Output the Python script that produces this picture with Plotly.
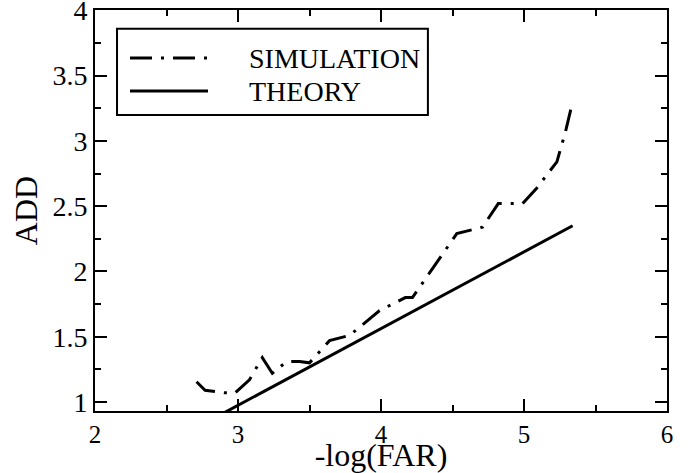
import plotly.graph_objects as go

# Data
sim_x = [2.71, 2.77, 2.91, 2.98, 3.08, 3.17, 3.24, 3.34, 3.43, 3.50, 3.64, 3.78,
         3.99, 4.17, 4.22, 4.32, 4.53, 4.71, 4.82, 4.99, 5.09, 5.23, 5.29, 5.34]
sim_y = [1.155, 1.09, 1.07, 1.07, 1.17, 1.34, 1.22, 1.31, 1.31, 1.30, 1.47, 1.51,
         1.70, 1.80, 1.80, 1.96, 2.29, 2.34, 2.52, 2.52, 2.64, 2.84, 3.07, 3.30]
theory_x = [2.71, 5.34]
theory_y = [0.804, 2.35]

series_names = ["SIMULATION", "THEORY"]
x_ticks = [2, 3, 4, 5, 6]
y_ticks = [1, 1.5, 2, 2.5, 3, 3.5, 4]
y_tick_labels = ["1", "1.5", "2", "2.5", "3", "3.5", "4"]

FONT = "Liberation Serif"
DASH = "22px,9px,3px,9px"

fig = go.Figure()
fig.add_trace(go.Scatter(x=sim_x, y=sim_y, mode="lines", name=series_names[0],
                         line=dict(color="black", width=3, dash=DASH),
                         showlegend=False))
fig.add_trace(go.Scatter(x=theory_x, y=theory_y, mode="lines", name=series_names[1],
                         line=dict(color="black", width=3),
                         showlegend=False))

# custom legend (box, samples, labels) in paper coordinates
fig.add_shape(type="rect", xref="paper", yref="paper",
              x0=0.0385, x1=0.582, y0=0.738, y1=0.953,
              line=dict(color="black", width=2), fillcolor="white")
fig.add_shape(type="line", xref="paper", yref="paper",
              x0=0.0612, x1=0.1976, y0=0.880, y1=0.880,
              line=dict(color="black", width=3, dash=DASH))
fig.add_shape(type="line", xref="paper", yref="paper",
              x0=0.0612, x1=0.1976, y0=0.798, y1=0.798,
              line=dict(color="black", width=3))
for name, yy in zip(series_names, [0.880, 0.798]):
    fig.add_annotation(xref="paper", yref="paper", x=0.2657, y=yy,
                       text=name, showarrow=False, xanchor="left", yanchor="middle",
                       font=dict(family=FONT, size=28, color="black"))

axis_common = dict(
    showgrid=False, zeroline=False, showline=True, linecolor="black", linewidth=2,
    mirror="ticks", ticks="inside", ticklen=12, tickwidth=2, tickcolor="black",
    ticklabeloverflow="allow",
)

fig.update_xaxes(range=[2, 6], tickvals=x_ticks, ticktext=[str(v) for v in x_ticks],
                 tickfont=dict(family=FONT, size=25, color="black"),
                 minor=dict(dtick=0.5, ticks="inside", ticklen=6, tickwidth=2,
                            tickcolor="black", showgrid=False),
                 title=dict(text="-log(FAR)", font=dict(family=FONT, size=32, color="black"),
                            standoff=0),
                 **axis_common)
fig.update_yaxes(range=[0.931, 4.003], tickvals=y_ticks, ticktext=y_tick_labels,
                 tickfont=dict(family=FONT, size=28, color="black"),
                 minor=dict(dtick=0.25, ticks="inside", ticklen=6, tickwidth=2,
                            tickcolor="black", showgrid=False),
                 title=dict(text="ADD", font=dict(family=FONT, size=32, color="black"),
                            standoff=5),
                 **axis_common)

fig.update_layout(
    width=690, height=473,
    margin=dict(l=95, r=23, t=10, b=62, autoexpand=False),
    paper_bgcolor="white", plot_bgcolor="white",
    font=dict(family=FONT, color="black"),
    showlegend=False,
)

fig.write_html("out.html", config={"displayModeBar": False},
               post_script="document.body.style.margin='0';document.body.style.overflow='hidden';")
